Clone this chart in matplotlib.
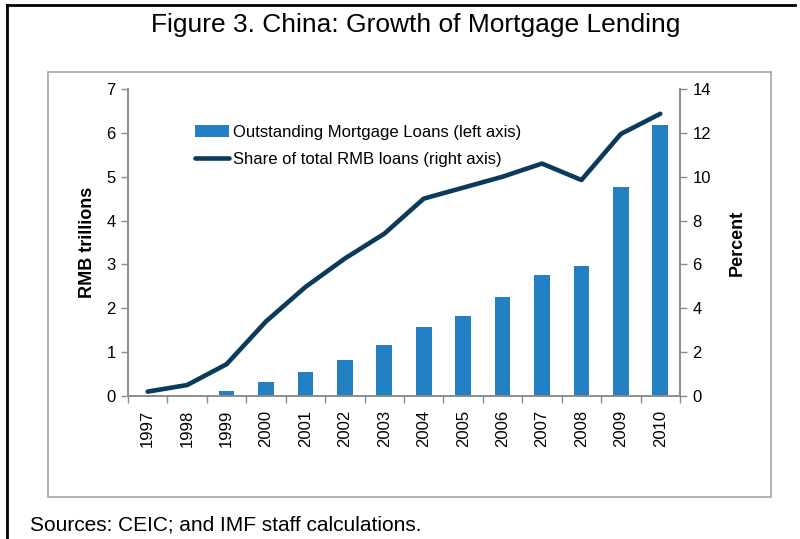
import matplotlib.pyplot as plt
from matplotlib.lines import Line2D
from matplotlib.patches import Rectangle
import numpy as np

plt.rcParams['font.family'] = ['Liberation Sans', 'DejaVu Sans']

years = ['1997', '1998', '1999', '2000', '2001', '2002', '2003',
         '2004', '2005', '2006', '2007', '2008', '2009', '2010']
# outstanding mortgage loans, RMB trillions
loans = [0.02, 0.03, 0.11, 0.33, 0.54, 0.81, 1.17,
         1.58, 1.82, 2.25, 2.77, 2.97, 4.77, 6.17]
# share of total RMB loans, percent
share = [0.2, 0.5, 1.45, 3.4, 4.97, 6.27, 7.4,
         9.0, 9.5, 10.0, 10.6, 9.85, 11.95, 12.87]

bar_color = '#2380C3'
line_color = '#0A3A5C'
spine_color = '#8C8C8C'

fig = plt.figure(figsize=(8.0, 5.39), dpi=100)

# outer frame: top and left rules, grey inner box around the chart
fig.add_artist(Line2D([7 / 800, 795 / 800], [1 - 5 / 539, 1 - 5 / 539],
                      transform=fig.transFigure, color='black', lw=2))
fig.add_artist(Line2D([7 / 800, 7 / 800], [0, 1 - 5 / 539],
                      transform=fig.transFigure, color='black', lw=2))
fig.add_artist(Rectangle((48 / 800, 1 - 497 / 539), (771 - 48) / 800,
                         (497 - 72) / 539, transform=fig.transFigure,
                         fill=False, edgecolor='#A6A6A6', lw=1.2))

fig.text(0.519, 1 - 25 / 539, 'Figure 3. China: Growth of Mortgage Lending',
         ha='center', va='center', fontsize=19)
fig.text(30 / 800, 1 - 525 / 539, 'Sources: CEIC; and IMF staff calculations.',
         ha='left', va='center', fontsize=15)

ax = fig.add_axes([128 / 800, 1 - 396 / 539, (680 - 128) / 800, (396 - 89) / 539])
x = np.arange(len(years))
ax.bar(x, loans, width=0.4, color=bar_color, zorder=2,
       label='Outstanding Mortgage Loans (left axis)')
ax.set_xlim(-0.5, len(years) - 0.5)
ax.set_ylim(0, 7)
ax.set_yticks(range(0, 8))

ax2 = ax.twinx()
ax2.plot(x, share, color=line_color, lw=3.3, zorder=3,
         solid_capstyle='round', label='Share of total RMB loans (right axis)')
ax2.set_ylim(0, 14)
ax2.set_yticks(range(0, 15, 2))

for a in (ax, ax2):
    for side in ('left', 'right', 'bottom'):
        a.spines[side].set_color(spine_color)
        a.spines[side].set_linewidth(1.2)
    a.spines['top'].set_visible(False)
    a.tick_params(axis='y', direction='out', length=5, width=1,
                  color=spine_color, labelsize=12, pad=4)

ax.set_xticks(x)
ax.set_xticklabels(years, rotation=90, fontsize=12)
ax.tick_params(axis='x', which='major', length=0, pad=10)
ax.set_xticks(np.arange(-0.5, len(years), 1), minor=True)
ax.tick_params(axis='x', which='minor', direction='out', length=5,
               width=1, color=spine_color)

ax.set_ylabel('RMB trillions', fontsize=13, fontweight='bold', labelpad=7)
ax2.set_ylabel('Percent', fontsize=13, fontweight='bold', rotation=90,
               labelpad=13)

h1, l1 = ax.get_legend_handles_labels()
h2, l2 = ax2.get_legend_handles_labels()
ax.legend(h1 + h2, l1 + l2, loc='upper left', bbox_to_anchor=(0.11, 0.905),
          frameon=False, fontsize=12, handlelength=2.0, handletextpad=0.25,
          labelspacing=0.75, borderaxespad=0)

fig.savefig('out.png', dpi=100)
